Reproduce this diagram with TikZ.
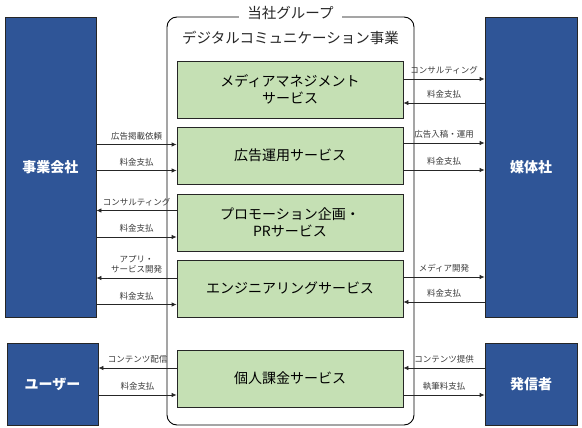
\documentclass[tikz,border=0pt]{standalone}
\usepackage{fontspec}
\setmainfont{Noto Sans CJK JP}
\usepackage{xcolor}
\definecolor{PartnerBlue}{HTML}{2F5597}
\definecolor{ServiceGreen}{HTML}{C5E0B4}
\definecolor{LabelGray}{HTML}{3A3A3A}
\usetikzlibrary{arrows.meta}
\tikzset{
  % Box styles
  partnerbox/.style={rectangle, draw=black!85, fill=PartnerBlue, text=white, line width=0.8pt, font=\fontsize{14}{16}\selectfont\bfseries, align=center},
  servicebox/.style={rectangle, draw=black!85, fill=ServiceGreen, line width=0.8pt, minimum width=226pt, minimum height=57pt, inner sep=0pt, font=\fontsize{14}{17}\selectfont, align=center},
  groupbox/.style={rectangle, rounded corners=10pt, draw=black, line width=0.9pt, minimum width=247pt, minimum height=408pt},
  titletext/.style={font=\fontsize{14.5}{16}\selectfont, text=black!85},
  % Arrow styles
  arrow/.style={-{Latex[length=5pt,width=4.5pt]}, line width=0.8pt, black!85},
  flowlabel/.style={font=\fontsize{8.5}{10}\selectfont, text=LabelGray, align=center, inner sep=1pt}
}

\begin{document}
\begin{tikzpicture}[x=1pt, y=-1pt]
  \useasboundingbox (0,0) rectangle (582,428);

  % Group
  \node[groupbox] (group) at (290.5,221) {};
  \node[titletext, fill=white, inner xsep=8pt] (grouptitle) at (290.5,13) {当社グループ};
  \node[titletext] (division) at (290.5,38) {デジタルコミュニケーション事業};

  % Services
  \node[servicebox] (media) at (290,89.5) {メディアマネジメント\\サービス};
  \node[servicebox] (adops) at (290,155.5) {広告運用サービス};
  \node[servicebox] (promo) at (290,222.5) {プロモーション企画・\\PRサービス};
  \node[servicebox] (engineer) at (290,288.5) {エンジニアリングサービス};
  \node[servicebox] (billing) at (290,378.5) {個人課金サービス};

  % Partners
  \node[partnerbox, minimum width=91pt, minimum height=300pt] (client) at (50.5,167) {事業会社};
  \node[partnerbox, minimum width=91pt, minimum height=82pt] (user) at (52.5,384) {ユーザー};
  \node[partnerbox, minimum width=92pt, minimum height=300pt] (publisher) at (531,167) {媒体社};
  \node[partnerbox, minimum width=92pt, minimum height=82pt] (creator) at (531,384) {発信者};

  % Client side
  \draw[arrow] ([yshift=11pt]adops.west -| client.east) -- node[flowlabel, above=3pt] {広告掲載依頼} ([yshift=11pt]adops.west);
  \draw[arrow] ([yshift=-15pt]adops.west -| client.east) -- node[flowlabel, above=3pt] {料金支払} ([yshift=-15pt]adops.west);
  \draw[arrow] ([yshift=12pt]promo.west) -- node[flowlabel, above=3pt] {コンサルティング} ([yshift=12pt]promo.west -| client.east);
  \draw[arrow] ([yshift=-14.5pt]promo.west -| client.east) -- node[flowlabel, above=3pt] {料金支払} ([yshift=-14.5pt]promo.west);
  \draw[arrow] ([yshift=10.5pt]engineer.west) -- node[flowlabel, above=3pt] {アプリ・\\サービス開発} ([yshift=10.5pt]engineer.west -| client.east);
  \draw[arrow] ([yshift=-16pt]engineer.west -| client.east) -- node[flowlabel, above=3pt] {料金支払} ([yshift=-16pt]engineer.west);

  % User side
  \draw[arrow] ([yshift=10.5pt]billing.west) -- node[flowlabel, above=3pt] {コンテンツ配信} ([yshift=10.5pt]billing.west -| user.east);
  \draw[arrow] ([yshift=-16.5pt]billing.west -| user.east) -- node[flowlabel, above=3pt] {料金支払} ([yshift=-16.5pt]billing.west);

  % Publisher side
  \draw[arrow] ([yshift=10.5pt]media.east) -- node[flowlabel, above=3pt] {コンサルティング} ([yshift=10.5pt]media.east -| publisher.west);
  \draw[arrow] ([yshift=-13.5pt]media.east -| publisher.west) -- node[flowlabel, above=3pt] {料金支払} ([yshift=-13.5pt]media.east);
  \draw[arrow] ([yshift=12.5pt]adops.east) -- node[flowlabel, above=3pt] {広告入稿・運用} ([yshift=12.5pt]adops.east -| publisher.west);
  \draw[arrow] ([yshift=-14.5pt]adops.east) -- node[flowlabel, above=3pt] {料金支払} ([yshift=-14.5pt]adops.east -| publisher.west);
  \draw[arrow] ([yshift=11.5pt]engineer.east) -- node[flowlabel, above=3pt] {メディア開発} ([yshift=11.5pt]engineer.east -| publisher.west);
  \draw[arrow] ([yshift=-13.5pt]engineer.east -| publisher.west) -- node[flowlabel, above=3pt] {料金支払} ([yshift=-13.5pt]engineer.east);

  % Creator side
  \draw[arrow] ([yshift=10.5pt]billing.east -| creator.west) -- node[flowlabel, above=3pt] {コンテンツ提供} ([yshift=10.5pt]billing.east);
  \draw[arrow] ([yshift=-16.5pt]billing.east) -- node[flowlabel, above=3pt] {執筆料支払} ([yshift=-16.5pt]billing.east -| creator.west);
\end{tikzpicture}
\end{document}
